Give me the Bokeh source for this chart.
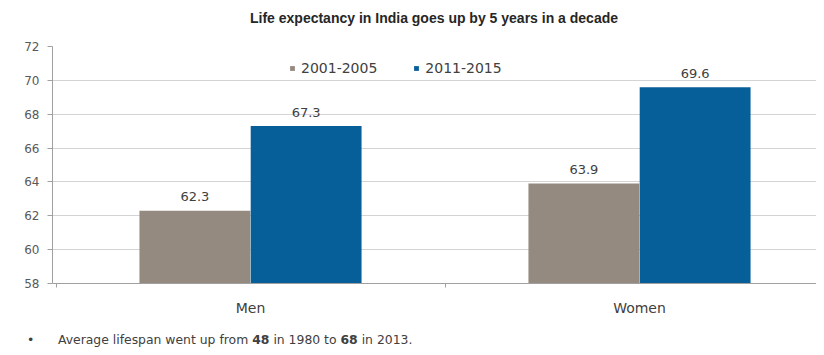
from bokeh.plotting import figure
from bokeh.layouts import column
from bokeh.models import (FixedTicker, Legend, LegendItem, ColumnDataSource,
                          LabelSet, Range1d, Div)
from bokeh.core.properties import value
from bokeh.embed import file_html
from bokeh.resources import INLINE

categories = ["Men", "Women"]
series_names = ["2001-2005", "2011-2015"]
values_2001_2005 = [62.3, 63.9]
values_2011_2015 = [67.3, 69.6]
y_ticks = [58, 60, 62, 64, 66, 68, 70, 72]
title_text = "Life expectancy in India goes up by 5 years in a decade"
footnote_html = ("&bull;&nbsp;&nbsp;&nbsp;&nbsp;&nbsp;&nbsp;Average lifespan went up from <b>48</b> "
                 "in 1980 to <b>68</b> in 2013.")

FONT = "DejaVu Sans"
TFONT = "Liberation Sans"
GREY = "#948a80"
BLUE = "#075f99"

x_pos = list(range(len(categories)))
offset = 0.143
bar_w = 0.285

title_div = Div(text=title_text, width=816, height=33, margin=0,
                styles={"font-family": TFONT, "font-size": "14px", "font-weight": "bold",
                        "color": "#262626", "text-align": "center",
                        "padding-left": "52px", "padding-top": "10px",
                        "line-height": "17px", "box-sizing": "border-box",
                        "width": "816px", "white-space": "nowrap"})

p = figure(width=816, height=287, output_backend="svg", toolbar_location=None,
           x_range=Range1d(-0.509, 1.455), y_range=Range1d(58, 72),
           min_border_left=52, min_border_right=0, min_border_top=13,
           min_border_bottom=37, margin=0)

src1 = ColumnDataSource(dict(x=[x - offset for x in x_pos], y=values_2001_2005,
                             lab=[f"{v:.1f}" for v in values_2001_2005]))
src2 = ColumnDataSource(dict(x=[x + offset for x in x_pos], y=values_2011_2015,
                             lab=[f"{v:.1f}" for v in values_2011_2015]))

r1 = p.vbar(x="x", top="y", bottom=58, width=bar_w, source=src1,
            fill_color=GREY, line_color=None)
r2 = p.vbar(x="x", top="y", bottom=58, width=bar_w, source=src2,
            fill_color=BLUE, line_color=None)

for src in (src1, src2):
    p.add_layout(LabelSet(x="x", y="y", text="lab", source=src, y_offset=14,
                          text_align="center", text_baseline="middle",
                          text_font=value(FONT), text_font_size=value("13px"),
                          text_color="#404040"))

legend = Legend(items=[LegendItem(label=series_names[0], renderers=[r1]),
                       LegendItem(label=series_names[1], renderers=[r2])],
                orientation="horizontal", location=(227, 197),
                glyph_width=6, glyph_height=6, spacing=36,
                label_text_font=FONT, label_text_font_size="14px",
                label_text_color="#404040", label_standoff=6,
                background_fill_alpha=0, border_line_alpha=0)
p.add_layout(legend)

p.xaxis.ticker = FixedTicker(ticks=x_pos, minor_ticks=[-0.5, 0.5, 1.5])
p.xaxis.major_label_overrides = {i: c for i, c in zip(x_pos, categories)}
p.xaxis.major_tick_line_color = None
p.xaxis.minor_tick_line_color = "#a0a0a0"
p.xaxis.minor_tick_out = 4
p.xaxis.minor_tick_in = 0
p.xaxis.axis_line_color = "#a0a0a0"
p.xaxis.major_label_text_font = FONT
p.xaxis.major_label_text_font_size = "14px"
p.xaxis.major_label_text_color = "#404040"
p.xaxis.major_label_standoff = 10

p.yaxis.ticker = FixedTicker(ticks=y_ticks)
p.yaxis.minor_tick_line_color = None
p.yaxis.axis_line_color = "#a0a0a0"
p.yaxis.major_tick_line_color = "#a0a0a0"
p.yaxis.major_tick_out = 5
p.yaxis.major_tick_in = 0
p.yaxis.major_label_text_font = FONT
p.yaxis.major_label_text_font_size = "12px"
p.yaxis.major_label_text_color = "#595959"
p.yaxis.major_label_standoff = 8

p.xgrid.grid_line_color = None
p.ygrid.grid_line_color = "#d4d4d4"
p.ygrid.ticker = FixedTicker(ticks=y_ticks)
p.outline_line_color = None

note = Div(text=footnote_html, width=816, height=30, margin=0,
           styles={"font-family": FONT, "font-size": "12.4px", "color": "#404040",
                   "padding-left": "27px", "padding-top": "12px",
                   "line-height": "15px", "white-space": "nowrap"})

layout = column(title_div, p, note, spacing=0)

open("out.html", "w").write(file_html(layout, INLINE))
